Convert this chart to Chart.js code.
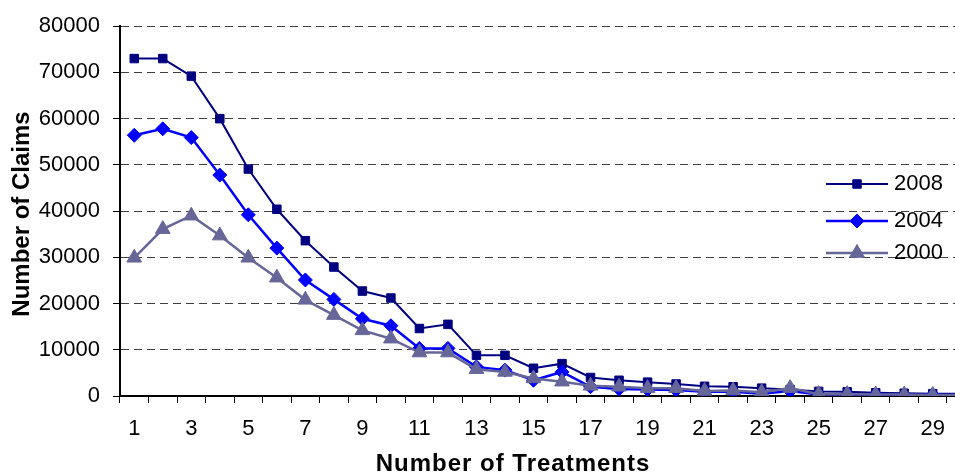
<!DOCTYPE html>
<html>
<head>
<meta charset="utf-8">
<script src="https://cdn.jsdelivr.net/npm/chart.js@4.4.1/dist/chart.umd.min.js"></script>
<style>
  html, body { margin: 0; padding: 0; background: #fff; overflow: hidden; }
  #wrap { width: 985px; height: 472px; }
</style>
</head>
<body>
<div id="wrap"><canvas id="chart" width="985" height="472"></canvas></div>
<script>
// number of treatments (x categories)
const categories = ['1', '2', '3', '4', '5', '6', '7', '8', '9', '10',
  '11', '12', '13', '14', '15', '16', '17', '18', '19', '20',
  '21', '22', '23', '24', '25', '26', '27', '28', '29', '30'];

// number of claims per year
const claims2008 = [73000, 73000, 69200, 60000, 49100, 40400, 33600, 27900, 22700, 21200,
  14600, 15500, 8800, 8800, 6000, 7000, 4000, 3400, 3000, 2600,
  2100, 2000, 1700, 1400, 1000, 900, 700, 600, 500, 500];
const claims2004 = [56400, 57800, 55900, 47800, 39200, 32000, 25100, 20900, 16700, 15200,
  10300, 10300, 6300, 5600, 3400, 5200, 2000, 1500, 1400, 1300,
  900, 900, 500, 1100, 300, 300, 300, 200, 200, 200];
const claims2000 = [29900, 36100, 39000, 34700, 29900, 25600, 20800, 17500, 14200, 12400,
  9400, 9400, 5800, 5200, 3800, 3100, 2200, 2000, 1700, 1700,
  1100, 1200, 800, 1700, 400, 400, 300, 300, 200, 200];

const yTicks = [0, 10000, 20000, 30000, 40000, 50000, 60000, 70000, 80000];

const FONT = '"Liberation Sans", Arial, sans-serif';

// titles + legend drawn on top (legend sits inside the plot, titles are off-centre)
const overlay = {
  id: 'overlay',
  afterDraw(chart) {
    const ctx = chart.ctx;
    ctx.save();
    ctx.fillStyle = '#000';
    ctx.font = 'bold 24px ' + FONT;
    ctx.textAlign = 'center';
    ctx.textBaseline = 'middle';
    ctx.translate(22, 214);
    ctx.rotate(-Math.PI / 2);
    ctx.fillText('Number of Claims', 0, 0);
    ctx.restore();

    ctx.save();
    ctx.fillStyle = '#000';
    ctx.font = 'bold 24px ' + FONT;
    if ('letterSpacing' in ctx) ctx.letterSpacing = '1px';
    ctx.textAlign = 'center';
    ctx.textBaseline = 'alphabetic';
    ctx.fillText('Number of Treatments', 513, 471);
    ctx.restore();

    // legend
    const rows = [184, 221, 253];
    chart.data.datasets.forEach((ds, i) => {
      const y = rows[i];
      ctx.save();
      ctx.strokeStyle = ds.borderColor;
      ctx.lineWidth = ds.borderWidth;
      ctx.beginPath();
      ctx.moveTo(826, y);
      ctx.lineTo(888, y);
      ctx.stroke();
      ctx.fillStyle = ds.pointBackgroundColor;
      ctx.strokeStyle = ds.pointBorderColor;
      ctx.lineWidth = 1;
      Chart.helpers.drawPoint(ctx, {
        pointStyle: ds.pointStyle, radius: ds.pointRadius, rotation: 0, borderWidth: 1
      }, 857, y);
      ctx.fillStyle = '#000';
      ctx.font = '22px ' + FONT;
      ctx.textAlign = 'left';
      ctx.textBaseline = 'middle';
      ctx.fillText(ds.label, 894, y);
      ctx.restore();
    });
  }
};

function series(label, data, color, style, radius, width, order) {
  return {
    label: label,
    data: data,
    borderColor: color,
    backgroundColor: color,
    pointBackgroundColor: color,
    pointBorderColor: color,
    pointStyle: style,
    pointRadius: radius,
    pointBorderWidth: 1,
    borderWidth: width,
    tension: 0,
    order: order
  };
}

new Chart(document.getElementById('chart'), {
  type: 'line',
  data: {
    labels: categories,
    datasets: [
      series('2008', claims2008, '#000080', 'rect', 6, 2, 3),
      series('2004', claims2004, '#0000FF', 'rectRot', 7, 2.5, 2),
      series('2000', claims2000, '#666699', 'triangle', 8.5, 2.5, 1)
    ]
  },
  options: {
    responsive: false,
    animation: false,
    layout: { padding: { top: 25, right: 8, left: 0, bottom: 0 } },
    plugins: {
      legend: { display: false },
      tooltip: { enabled: false }
    },
    scales: {
      x: {
        type: 'category',
        offset: true,
        grid: { display: true, offset: true, drawOnChartArea: false, drawTicks: true,
          tickLength: 7, tickColor: '#000', tickWidth: 1 },
        border: { display: true, color: '#000', width: 2 },
        ticks: {
          autoSkip: false, maxRotation: 0, minRotation: 0, padding: 13,
          color: '#000', font: { family: FONT, size: 22 },
          callback: (v, i) => (i % 2 === 0 ? categories[i] : '')
        },
        afterFit: s => { s.height = 76; }
      },
      y: {
        min: 0,
        max: 80000,
        afterBuildTicks: s => { s.ticks = yTicks.map(v => ({ value: v })); },
        grid: { color: '#404040', lineWidth: 1, drawTicks: true, tickLength: 7,
          tickColor: '#000', tickWidth: 1, tickBorderDash: [] },
        border: { display: true, color: '#000', width: 2, dash: [8, 5] },
        ticks: {
          padding: 13, color: '#000', font: { family: FONT, size: 22 },
          callback: v => String(v)
        },
        afterFit: s => { s.width = 120; }
      }
    }
  },
  plugins: [overlay]
});
</script>
</body>
</html>
